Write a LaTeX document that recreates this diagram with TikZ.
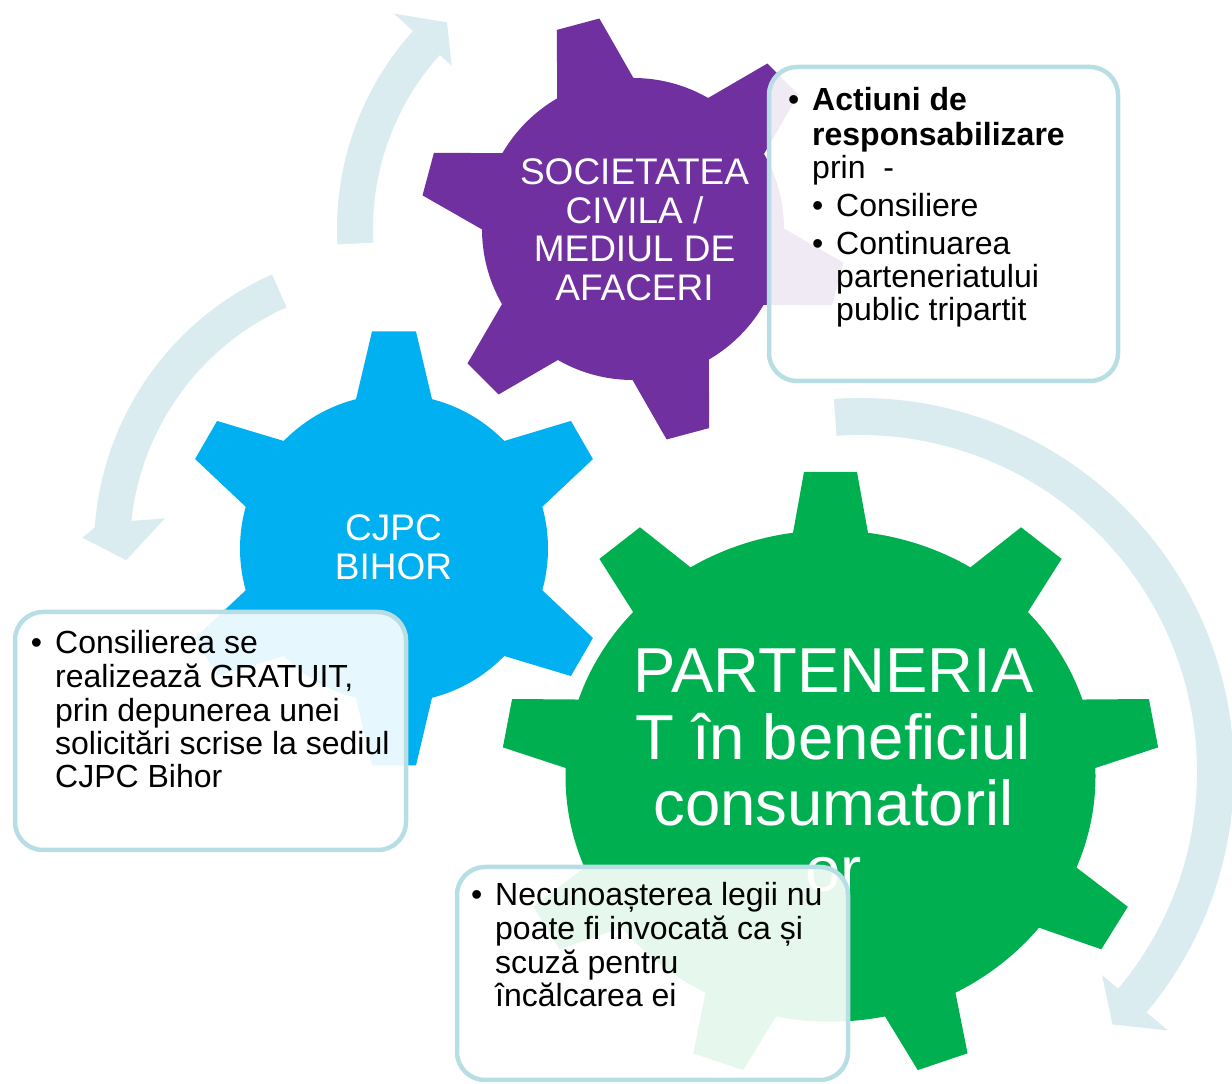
\documentclass[tikz,border=0pt]{standalone}
\usepackage{fontspec}
\setmainfont{Liberation Sans}
\definecolor{purp}{RGB}{112,48,160}
\definecolor{sky}{RGB}{0,176,240}
\definecolor{grn}{RGB}{0,176,80}
\definecolor{arrowc}{RGB}{218,236,239}
\definecolor{boxline}{RGB}{183,222,228}
\tikzset{
  gearlabel/.style={text=white, align=center, inner sep=0pt, anchor=north},
  boxlabel/.style={text=black, align=left, inner sep=0pt, anchor=north west, font=\fontsize{32}{33.3}\selectfont},
  notebox/.style={draw=boxline, line width=4.5pt, fill=white, fill opacity=0.9, rounded corners=28pt, inner sep=0pt},
  arrowband/.style={fill=arrowc},
}
\newcommand\bul[1][0pt]{\hspace*{#1}\llap{\textbullet\hspace{13pt}}}
% #1 scope options, #2 teeth, #3 first tooth angle (clockwise from up), #4 r, #5 R, #6 base half width, #7 tip half width, #8 base height, #9 colour
\newcommand\drawgear[9]{%
 \begin{scope}[#1]
  \fill[#9] (0,0) circle[radius=#4];
  \foreach \k in {1,...,#2}{%
   \pgfmathsetmacro\ang{-(#3)-360/#2*(\k-1)}%
   \fill[#9,rotate=\ang] (-#6,0) -- (-#6,#8) -- (-#7,#5) -- (#7,#5) -- (#6,#8) -- (#6,0) -- cycle;}
 \end{scope}}
\begin{document}
\begin{tikzpicture}[x=1pt,y=1pt]
\useasboundingbox (0,0) rectangle (1232,1084);
% circular arrows
\begin{scope}[shift={(633,855)}]
\fill[arrowband] (183:296) arc[start angle=183,end angle=138,radius=296] -- (138:322) -- (132:278) -- (138:244) -- (138:260) arc[start angle=138,end angle=183,radius=260] -- cycle;
\end{scope}
\begin{scope}[shift={(394,535.5)}]
\fill[arrowband] (114:300) arc[start angle=114,end angle=176,radius=300] -- (178:312) -- (182.5:268) -- (172.5:231) -- (174:264) arc[start angle=174,end angle=114,radius=264] -- cycle;
\end{scope}
\begin{scope}[shift={(860,312)}]
\fill[arrowband] (94:374) arc[start angle=94,end angle=-40,radius=374] -- (-40:402) -- (-45:357) -- (-40:316) -- (-40:337) arc[start angle=-40,end angle=94,radius=337] -- cycle;
\end{scope}
% gears
\drawgear{shift={(633,855)}}{6}{-15}{151}{212}{39.5}{22}{145.74}{purp}
\drawgear{shift={(394,535.5)}}{6}{0}{154}{217}{38}{22}{149.24}{sky}
\drawgear{shift={(830.5,308)},yscale=0.927}{9}{0}{265}{328}{37.5}{26.5}{262.33}{grn}
% gear labels
\node[gearlabel, font=\fontsize{37}{38.3}\selectfont] (soc) at (634.5,926.8) {\strut SOCIETATEA\\CIVILA /\\MEDIUL DE\\AFACERI};
\node[gearlabel, font=\fontsize{37}{39}\selectfont] (cjpc) at (393.5,571.3) {\strut CJPC\\BIHOR};
\node[gearlabel, font=\fontsize{63.5}{66}\selectfont] (part) at (833.5,438.2) {\strut PARTENERIA\\T în beneficiul\\consumatoril\\or};
% note boxes
\node[notebox, minimum width=349pt, minimum height=314pt] (box1) at (943.5,860) {};
\node[boxlabel, font=\fontsize{32}{33}\selectfont] (txt1) at (812,996.4) {\strut\bul\textbf{Actiuni de}\\
\textbf{responsabilizare}\\
prin~~-\\[5pt]
\bul[24pt]Consiliere\\[5pt]
\bul[24pt]Continuarea\\
\hspace*{24pt}parteneriatului\\
\hspace*{24pt}public tripartit};
\node[notebox, minimum width=391pt, minimum height=238pt] (box2) at (210.5,353) {};
\node[boxlabel] (txt2) at (55,454.3) {\strut\bul Consilierea se\\realizează GRATUIT,\\prin depunerea unei\\solicitări scrise la sediul\\CJPC Bihor};
\node[notebox, minimum width=391pt, minimum height=213pt] (box3) at (652.5,110.5) {};
\node[boxlabel] (txt3) at (495,202.3) {\strut\bul Necunoașterea legii nu\\poate fi invocată ca și\\scuză pentru\\încălcarea ei};
\end{tikzpicture}
\end{document}
